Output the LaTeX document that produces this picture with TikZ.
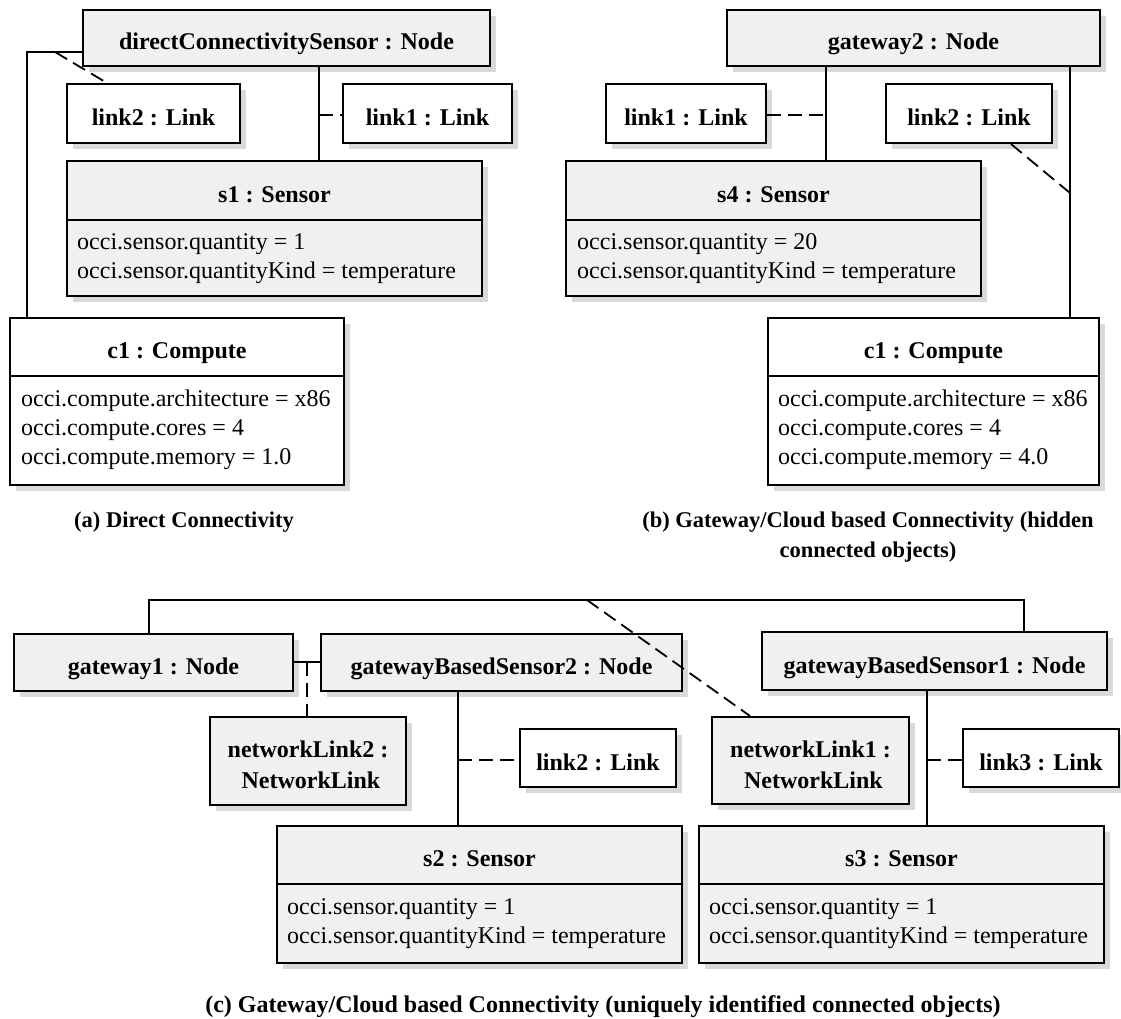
\documentclass[tikz,border=0pt]{standalone}
\usepackage{fontspec}
\setmainfont{Liberation Serif}
\usetikzlibrary{fit,shadows}
\newcommand\fs{\fontsize{24pt}{29pt}\selectfont}
\newcommand\fcap{\fontsize{22.5pt}{29pt}\selectfont}
\tikzset{
  sh/.style={drop shadow={shadow xshift=6pt, shadow yshift=-6pt, fill=black!15, opacity=1}},
  gbox/.style={draw, line width=2pt, fill=black!6, sh, inner sep=0pt},
  wbox/.style={draw, line width=2pt, fill=white, sh, inner sep=0pt},
  ttl/.style={font=\fs\bfseries, anchor=base, inner sep=0pt},
  att/.style={font=\fs, anchor=base west, inner sep=0pt},
  capt/.style={font=\fcap\bfseries, anchor=base, inner sep=0pt},
  ccapt/.style={font=\fs\bfseries, anchor=base, inner sep=0pt},
  con/.style={line width=1.8pt},
  dcon/.style={line width=1.8pt, dash pattern=on 14pt off 7pt},
  divl/.style={line width=2pt}
}
\begin{document}
\begin{tikzpicture}[x=1pt,y=-1pt]
\useasboundingbox (0,0) rectangle (1121,1019);

% ---------------- (a) ----------------
\node[gbox, fit={(83,10)(490,66)}] (dcs) {};
\node[ttl] (dcsT) at ([yshift=-12pt]dcs.center) {directConnectivitySensor : Node};
\node[wbox, fit={(67,84)(240,143)}] (lkTwoA) {};
\node[ttl] (lkTwoAT) at ([yshift=-12pt]lkTwoA.center) {link2 : Link};
\node[wbox, fit={(343,84)(512,143)}] (lkOneA) {};
\node[ttl] (lkOneAT) at ([yshift=-12pt]lkOneA.center) {link1 : Link};
\node[gbox, fit={(67,161)(482,296)}] (sOne) {};
\draw[divl] (sOne.west |- 0,220) -- (sOne.east |- 0,220);
\node[ttl] (sOneT) at (274.5,202) {s1 : Sensor};
\node[att] (sOneA) at (77,249) {occi.sensor.quantity = 1};
\node[att] (sOneB) at (77,278) {occi.sensor.quantityKind = temperature};
\node[wbox, fit={(10,318)(344,485)}] (cOneA) {};
\draw[divl] (cOneA.west |- 0,376) -- (cOneA.east |- 0,376);
\node[ttl] (cOneAT) at (177,358) {c1 : Compute};
\node[att] (cOneAa) at (21,406) {occi.compute.architecture = x86};
\node[att] (cOneAb) at (21,435) {occi.compute.cores = 4};
\node[att] (cOneAc) at (21,464) {occi.compute.memory = 1.0};

\coordinate (jA) at (55,52);
\coordinate (jB) at (319,115);
\draw[con] (dcs.west |- jA) -| (cOneA.north -| 27,0);
\draw[dcon] (jA) -- (lkTwoA.north -| 107,0);
\draw[con] (dcs.south -| jB) -- (sOne.north -| jB);
\draw[dcon] (jB) -- (lkOneA.west |- jB);

\node[capt] (capA) at (184,527) {(a) Direct Connectivity};

% ---------------- (b) ----------------
\node[gbox, fit={(727,10)(1100,66)}] (gwTwo) {};
\node[ttl] (gwTwoT) at ([yshift=-12pt]gwTwo.center) {gateway2 : Node};
\node[wbox, fit={(606,84)(766,143)}] (lkOneB) {};
\node[ttl] (lkOneBT) at ([yshift=-12pt]lkOneB.center) {link1 : Link};
\node[wbox, fit={(886,84)(1052,143)}] (lkTwoB) {};
\node[ttl] (lkTwoBT) at ([yshift=-12pt]lkTwoB.center) {link2 : Link};
\node[gbox, fit={(566,161)(981,296)}] (sFour) {};
\draw[divl] (sFour.west |- 0,220) -- (sFour.east |- 0,220);
\node[ttl] (sFourT) at (773.5,202) {s4 : Sensor};
\node[att] (sFourA) at (577,249) {occi.sensor.quantity = 20};
\node[att] (sFourB) at (577,278) {occi.sensor.quantityKind = temperature};
\node[wbox, fit={(768,318)(1099,485)}] (cOneB) {};
\draw[divl] (cOneB.west |- 0,376) -- (cOneB.east |- 0,376);
\node[ttl] (cOneBT) at (933.5,358) {c1 : Compute};
\node[att] (cOneBa) at (778,406) {occi.compute.architecture = x86};
\node[att] (cOneBb) at (778,435) {occi.compute.cores = 4};
\node[att] (cOneBc) at (778,464) {occi.compute.memory = 4.0};

\coordinate (jC) at (826,115);
\coordinate (jD) at (1070,193);
\draw[con] (gwTwo.south -| jC) -- (sFour.north -| jC);
\draw[dcon] (lkOneB.east |- jC) -- (jC);
\draw[con] (gwTwo.south -| jD) -- (cOneB.north -| jD);
\draw[dcon] (lkTwoB.south -| 1011,0) -- (jD);

\node[capt] (capB1) at (868,527) {(b) Gateway/Cloud based Connectivity (hidden};
\node[capt] (capB2) at (868,557) {connected objects)};

% ---------------- (c) ----------------
\node[gbox, fit={(14,634)(293,691)}] (gwOne) {};
\node[ttl] (gwOneT) at ([yshift=-12pt]gwOne.center) {gateway1 : Node};
\node[gbox, fit={(321,634)(682,691)}] (gbsTwo) {};
\node[ttl] (gbsTwoT) at ([yshift=-12pt]gbsTwo.center) {gatewayBasedSensor2 : Node};
\node[gbox, fit={(762,632)(1107,690)}] (gbsOne) {};
\node[ttl] (gbsOneT) at ([yshift=-12pt]gbsOne.center) {gatewayBasedSensor1 : Node};
\node[gbox, fit={(210,717)(406,805)}] (nlTwo) {};
\node[ttl] (nlTwoT) at (308,757) {networkLink2 :};
\node[ttl] (nlTwoU) at (311,788) {NetworkLink};
\node[gbox, fit={(712,717)(909,804)}] (nlOne) {};
\node[ttl] (nlOneT) at (810.5,757) {networkLink1 :};
\node[ttl] (nlOneU) at (813.5,788) {NetworkLink};
\node[wbox, fit={(520,729)(676,787)}] (lkTwoC) {};
\node[ttl] (lkTwoCT) at ([yshift=-12pt]lkTwoC.center) {link2 : Link};
\node[wbox, fit={(963,729)(1119,787)}] (lkThreeC) {};
\node[ttl] (lkThreeCT) at ([yshift=-12pt]lkThreeC.center) {link3 : Link};
\node[gbox, fit={(277,826)(682,963)}] (sTwo) {};
\draw[divl] (sTwo.west |- 0,884) -- (sTwo.east |- 0,884);
\node[ttl] (sTwoT) at (479.5,866) {s2 : Sensor};
\node[att] (sTwoA) at (287,914) {occi.sensor.quantity = 1};
\node[att] (sTwoB) at (287,943) {occi.sensor.quantityKind = temperature};
\node[gbox, fit={(699,826)(1104,963)}] (sThree) {};
\draw[divl] (sThree.west |- 0,884) -- (sThree.east |- 0,884);
\node[ttl] (sThreeT) at (901.5,866) {s3 : Sensor};
\node[att] (sThreeA) at (709,914) {occi.sensor.quantity = 1};
\node[att] (sThreeB) at (709,943) {occi.sensor.quantityKind = temperature};

\coordinate (jE) at (149,600);
\coordinate (jF) at (587,600);
\coordinate (jG) at (307,662);
\coordinate (jH) at (458,760);
\coordinate (jI) at (927,760);
\draw[con] (gwOne.north -| jE) -- (jE) -| (gbsOne.north -| 1024,0);
\draw[con] (gwOne.east |- jG) -- (gbsTwo.west |- jG);
\draw[dcon] (jG) -- (nlTwo.north -| jG);
\draw[con] (gbsTwo.south -| jH) -- (sTwo.north -| jH);
\draw[dcon] (jH) -- (lkTwoC.west |- jH);
\draw[dcon] (jF) -- (nlOne.north -| 750,0);
\draw[con] (gbsOne.south -| jI) -- (sThree.north -| jI);
\draw[dcon] (jI) -- (lkThreeC.west |- jI);

\node[ccapt] (capC) at (603,1012) {(c) Gateway/Cloud based Connectivity (uniquely identified connected objects)};
\end{tikzpicture}
\end{document}
